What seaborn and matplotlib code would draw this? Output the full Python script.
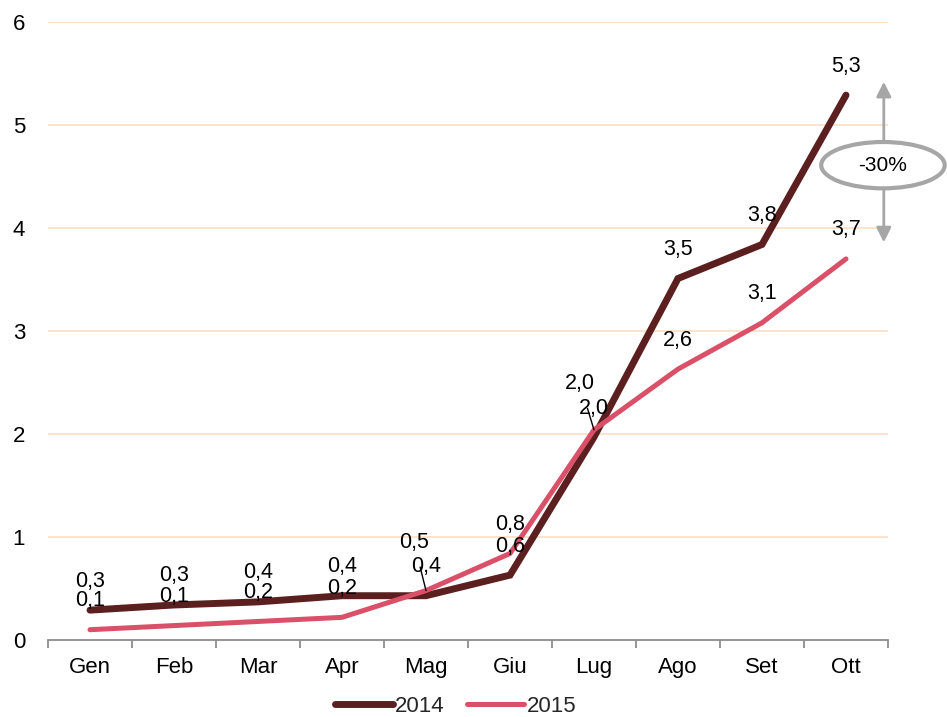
import numpy as np
import pandas as pd
import matplotlib
matplotlib.use("Agg")
import matplotlib.pyplot as plt
from matplotlib.patches import Ellipse
import seaborn as sns

# Monthly values (cumulative), two years
months = ["Gen", "Feb", "Mar", "Apr", "Mag", "Giu", "Lug", "Ago", "Set", "Ott"]
values_2014 = [0.29, 0.34, 0.37, 0.43, 0.43, 0.63, 1.97, 3.51, 3.84, 5.29]
values_2015 = [0.10, 0.14, 0.18, 0.22, 0.48, 0.84, 2.04, 2.63, 3.08, 3.70]
y_ticks = [0, 1, 2, 3, 4, 5, 6]
change_label = "-30%"

sns.set_theme(style="white")
plt.rcParams["font.family"] = ["Liberation Sans", "DejaVu Sans"]

df = pd.DataFrame({
    "mese": months * 2,
    "valore": values_2014 + values_2015,
    "anno": ["2014"] * len(months) + ["2015"] * len(months),
})

colors = {"2014": "#5C1F1F", "2015": "#DA5068"}
widths = {"2014": 5.0, "2015": 3.6}

fig = plt.figure(figsize=(9.47, 7.17), dpi=100)
ax = fig.add_axes([48 / 947, 1 - 640 / 717, 840 / 947, 618 / 717])

for year in ["2014", "2015"]:
    sub = df[df["anno"] == year]
    sns.lineplot(data=sub, x="mese", y="valore", ax=ax, color=colors[year],
                 linewidth=widths[year], label=year, sort=False,
                 solid_capstyle="round", solid_joinstyle="miter", zorder=3)

ax.set_xlim(-0.5, len(months) - 0.5)
ax.set_ylim(0, 6)
ax.set_yticks(y_ticks)
ax.set_yticklabels([str(t) for t in y_ticks])
ax.set_xlabel("")
ax.set_ylabel("")

# light horizontal gridlines
for t in y_ticks[1:]:
    ax.axhline(t, color="#FCE1C6", linewidth=1.3, zorder=1)

for s in ["top", "right", "left"]:
    ax.spines[s].set_visible(False)
ax.spines["bottom"].set_color("#8C8C8C")
ax.spines["bottom"].set_linewidth(1.3)

ax.tick_params(axis="y", length=0, pad=16.5, labelsize=16, labelcolor="black")
ax.tick_params(axis="x", which="major", length=0, pad=12.5, labelsize=16,
               labelcolor="black")
ax.set_xticks(np.arange(-0.5, len(months)), minor=True)
ax.tick_params(axis="x", which="minor", length=5.5, width=1.3, color="#8C8C8C",
               direction="out", bottom=True)


def fmt(v):
    return f"{v:.1f}".replace(".", ",")


LABEL_SIZE = 15.5

# data labels above each point; two are pulled aside with a leader line
moved = {("2015", 4): (-12, 48), ("2015", 6): (-14, 46)}
for year, vals in [("2014", values_2014), ("2015", values_2015)]:
    for i, v in enumerate(vals):
        key = (year, i)
        if key in moved:
            dx, dy = moved[key]
            ax.annotate(fmt(v), xy=(i, v), xytext=(dx, dy),
                        textcoords="offset pixels", ha="center", va="center",
                        fontsize=LABEL_SIZE, color="black", zorder=5,
                        arrowprops=dict(arrowstyle="-", color="black", lw=1.0,
                                        shrinkA=8, shrinkB=0))
        else:
            ax.annotate(fmt(v), xy=(i, v), xytext=(0, 29),
                        textcoords="offset pixels", ha="center", va="center",
                        fontsize=LABEL_SIZE, color="black", zorder=5)

# change marker between the two final values
ax.annotate("", xy=(9.45, 5.42), xytext=(9.45, 3.86),
            arrowprops=dict(arrowstyle="<|-|>", color="#A6A6A6", lw=2.0,
                            mutation_scale=22, shrinkA=0, shrinkB=0),
            annotation_clip=False, zorder=4)
ell = Ellipse((9.44, 4.61), width=1.47, height=0.45, facecolor="white",
              edgecolor="#A6A6A6", linewidth=3, clip_on=False, zorder=6)
ax.add_patch(ell)
ax.text(9.44, 4.61, change_label, ha="center", va="center", fontsize=15,
        color="black", zorder=7, clip_on=False)

ax.get_legend().remove()
handles, labels = ax.get_legend_handles_labels()
fig.legend(handles, labels, loc="center", ncol=2, frameon=False,
           bbox_to_anchor=(0.481, 1 - 706 / 717), fontsize=16,
           handlelength=2.6, handletextpad=0.1, columnspacing=1.0,
           borderaxespad=0, borderpad=0)

fig.savefig("out.png", dpi=100)
